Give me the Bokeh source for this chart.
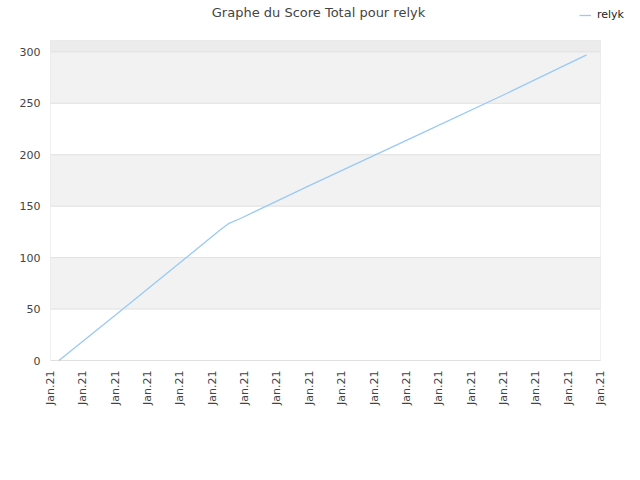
from bokeh.plotting import figure
from bokeh.models import Range1d, FixedTicker, Label, Legend, LegendItem, BoxAnnotation
from bokeh.embed import file_html
from bokeh.resources import INLINE
import math

# ---- data ----
title_text = "Graphe du Score Total pour relyk"
series_name = "relyk"
tick_positions = list(range(18))
tick_labels = ["Jan.21"] * 18
x_vals = [0.26, 2.0, 4.0, 5.25, 5.5, 5.87, 8.0, 11.0, 14.0, 16.57]
score_vals = [0, 44, 95, 127, 133, 138, 170, 214, 258, 297]
y_ticks = [0, 50, 100, 150, 200, 250, 300]
band_bottoms = [50, 150, 250]
band_tops = [100, 200, 300]
y_top = 311

FONT = "DejaVu Sans"
X_FIRST, X_LAST = tick_positions[0], tick_positions[-1]

# The frame is stretched over the title/legend area; the visible plot box is drawn explicitly.
PX_X = 32.353   # px per x unit
PX_Y = 1.02894  # px per y unit
p = figure(width=632, height=472, output_backend="svg", toolbar_location=None,
           x_range=Range1d(X_FIRST - 2 / PX_X, X_FIRST + 582 / PX_X),
           y_range=Range1d(-2 / PX_Y, 360 / PX_Y),
           min_border_left=48, min_border_right=0, min_border_top=0, min_border_bottom=110)
p.background_fill_color = "white"
p.border_fill_color = "white"
p.outline_line_color = None

for b, t in zip(band_bottoms, band_tops):
    p.add_layout(BoxAnnotation(left=X_FIRST, right=X_LAST, bottom=b, top=t, fill_color="#f2f2f2",
                               fill_alpha=1, line_color=None, level="image"))
p.add_layout(BoxAnnotation(left=X_FIRST, right=X_LAST, bottom=y_ticks[-1], top=y_top,
                           fill_color="#ececec", fill_alpha=1, line_color=None, level="image"))

p.segment(x0=[X_FIRST] * len(y_ticks), x1=[X_LAST] * len(y_ticks), y0=y_ticks, y1=y_ticks,
          line_color="#e0e0e0", line_width=1)
p.add_layout(BoxAnnotation(left=X_FIRST, right=X_LAST, bottom=0, top=y_top, fill_alpha=0,
                           line_color="#d0d0d0", line_width=1, level="underlay"))

line = p.line(x_vals, score_vals, line_color="#99c9f5", line_width=1.3)

p.xgrid.grid_line_color = None
p.ygrid.grid_line_color = None

p.xaxis.ticker = FixedTicker(ticks=tick_positions)
p.xaxis.major_label_overrides = {t: l for t, l in zip(tick_positions, tick_labels)}
p.xaxis.major_label_orientation = math.pi / 2
p.yaxis.ticker = FixedTicker(ticks=y_ticks)
for ax in (p.xaxis, p.yaxis):
    ax.axis_line_color = None
    ax.major_tick_line_color = None
    ax.minor_tick_line_color = None
    ax.major_tick_out = 0
    ax.major_tick_in = 0
    ax.major_label_standoff = 8
    ax.major_label_text_font = FONT
    ax.major_label_text_font_size = "11px"
    ax.major_label_text_color = "#444444"

p.add_layout(Label(x=270, y=350, x_units="screen", y_units="screen", text=title_text,
                   text_align="center", text_baseline="middle", text_font=FONT,
                   text_font_size="13px", text_color="#444444"))

legend = Legend(items=[LegendItem(label=series_name, renderers=[line])],
                location=(531, 341), orientation="horizontal",
                background_fill_alpha=0, border_line_color=None,
                glyph_width=12, glyph_height=12, label_height=12, label_standoff=6,
                label_text_font=FONT, label_text_font_size="11px", label_text_color="#222222",
                padding=0, margin=0)
p.add_layout(legend)

open("out.html", "w").write(file_html(p, INLINE))
